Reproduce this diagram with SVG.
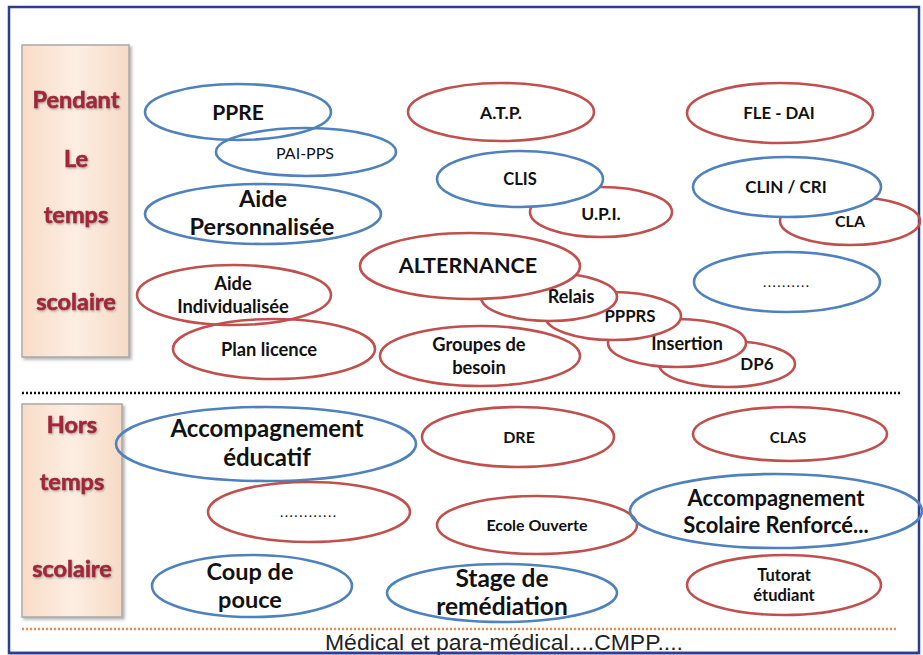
<svg xmlns="http://www.w3.org/2000/svg" width="923" height="655" viewBox="0 0 923 655">
<defs>
<linearGradient id="peach" x1="0" y1="0" x2="1" y2="0">
<stop offset="0" stop-color="#f8dcc8"/>
<stop offset="0.5" stop-color="#fdeee3"/>
<stop offset="1" stop-color="#f6dbc6"/>
</linearGradient>
<filter id="boxShadow" x="-10%" y="-5%" width="125%" height="115%">
<feDropShadow dx="2" dy="2" stdDeviation="1.5" flood-color="#555" flood-opacity="0.45"/>
</filter>
<filter id="txtShadow" x="-10%" y="-20%" width="130%" height="150%">
<feDropShadow dx="1" dy="1.2" stdDeviation="0.8" flood-color="#777" flood-opacity="0.6"/>
</filter>
</defs>
<style>
.b{fill:none;stroke:#4f81bd;stroke-width:2.6}
.r{fill:none;stroke:#c0504d;stroke-width:2.6}
.w{fill:#fff}
text{font-family:Lato,"Liberation Sans",sans-serif;fill:#111;text-anchor:middle;font-weight:bold}
.reg{font-weight:normal}
.lab{fill:#a0283a;stroke:#a0283a;stroke-width:0.6;font-size:23.5px;filter:url(#txtShadow)}
.box{fill:url(#peach);stroke:#a9a9a9;stroke-width:1.5;filter:url(#boxShadow)}
</style>
<rect x="9" y="7" width="910" height="646" fill="#fff" stroke="#2d3d90" stroke-width="2.5"/>

<g id="label-pendant">
<rect class="box" x="22" y="45" width="107" height="312"/>
<text class="lab" x="76" y="108">Pendant</text>
<text class="lab" x="76" y="167">Le</text>
<text class="lab" x="76" y="223">temps</text>
<text class="lab" x="76" y="310">scolaire</text>
</g>
<g id="label-hors">
<rect class="box" x="22" y="404" width="100" height="213"/>
<text class="lab" x="72" y="433">Hors</text>
<text class="lab" x="72" y="490">temps</text>
<text class="lab" x="72" y="577">scolaire</text>
</g>

<g id="connectors">
<line x1="22" y1="393" x2="900" y2="393" stroke="#111" stroke-width="2.6" stroke-dasharray="2 2"/>
<line x1="22" y1="629" x2="898" y2="629" stroke="#ea8a4c" stroke-width="2.4" stroke-dasharray="2 2"/>
</g>

<g id="n-ppre"><ellipse class="b" cx="238" cy="112" rx="93" ry="28"/><text x="238" y="119.5" font-size="21">PPRE</text></g>
<g id="n-paipps"><ellipse class="b" cx="306" cy="152" rx="90" ry="24"/><text class="reg" x="305" y="159" font-size="16">PAI-PPS</text></g>
<g id="n-aidepers"><ellipse class="b" cx="263" cy="214" rx="118" ry="30"/><text x="263" y="207" font-size="23.5">Aide</text><text x="262" y="235" font-size="23.5">Personnalisée</text></g>
<g id="n-atp"><ellipse class="r" cx="501" cy="112" rx="93" ry="29"/><text x="501" y="119" font-size="17.5">A.T.P.</text></g>
<g id="n-upi"><ellipse class="r" cx="601" cy="212" rx="71" ry="25"/><text x="601" y="220" font-size="17.5">U.P.I.</text></g>
<g id="n-clis"><ellipse class="b w" cx="520" cy="179" rx="83" ry="28"/><text x="520" y="185" font-size="16.5">CLIS</text></g>
<g id="n-fle"><ellipse class="r" cx="780" cy="113" rx="93" ry="30"/><text x="779" y="118.5" font-size="16.8">FLE - DAI</text></g>
<g id="n-cla"><ellipse class="r" cx="850" cy="221" rx="70" ry="24"/><text x="850" y="227" font-size="16">CLA</text></g>
<g id="n-clin"><ellipse class="b w" cx="787" cy="187" rx="94" ry="30"/><text x="786" y="193" font-size="17">CLIN / CRI</text></g>
<g id="n-dots1"><ellipse class="b" cx="787" cy="282" rx="93" ry="30"/><text class="reg" x="786" y="287" font-size="14" textLength="46" lengthAdjust="spacing">..........</text></g>

<g id="n-dp6"><ellipse class="r w" cx="727" cy="364" rx="68" ry="23"/><text x="757" y="369.5" font-size="17">DP6</text></g>
<g id="n-insertion"><ellipse class="r w" cx="677" cy="343" rx="69" ry="24"/><text x="687" y="349.5" font-size="18">Insertion</text></g>
<g id="n-ppprs"><ellipse class="r w" cx="613" cy="316" rx="68" ry="24"/><text x="630" y="322" font-size="16.8">PPPRS</text></g>
<g id="n-relais"><ellipse class="r w" cx="549" cy="297" rx="68" ry="24"/><text x="571" y="302.5" font-size="18">Relais</text></g>
<g id="n-alternance"><ellipse class="r w" cx="470" cy="266" rx="110" ry="33"/><text x="468" y="273" font-size="21.6">ALTERNANCE</text></g>
<g id="n-groupes"><ellipse class="r" cx="480" cy="356" rx="100" ry="30"/><text x="479" y="351" font-size="18.3">Groupes de</text><text x="479" y="373.5" font-size="18.3">besoin</text></g>
<g id="n-aideind"><ellipse class="r" cx="234" cy="295" rx="97" ry="30"/><text x="233" y="290" font-size="18.3">Aide</text><text x="233" y="313" font-size="18.3">Individualisée</text></g>
<g id="n-plan"><ellipse class="r" cx="274" cy="349" rx="101" ry="30"/><text x="269" y="355.5" font-size="18.3">Plan licence</text></g>

<g id="n-accedu"><ellipse class="b" cx="266" cy="444" rx="150" ry="37"/><text x="267" y="437" font-size="24">Accompagnement</text><text x="267" y="466" font-size="24">éducatif</text></g>
<g id="n-dots2"><ellipse class="r" cx="309" cy="512" rx="101" ry="30"/><text class="reg" x="308" y="517" font-size="14" textLength="56" lengthAdjust="spacing">............</text></g>
<g id="n-coup"><ellipse class="b" cx="252" cy="586" rx="100" ry="31"/><text x="250" y="580" font-size="23.5">Coup de</text><text x="250" y="608" font-size="23.5">pouce</text></g>
<g id="n-dre"><ellipse class="r" cx="518" cy="437" rx="96" ry="30"/><text x="519" y="443" font-size="16">DRE</text></g>
<g id="n-clas"><ellipse class="r" cx="790" cy="434" rx="97" ry="27"/><text x="788" y="443" font-size="15">CLAS</text></g>
<g id="n-ecole"><ellipse class="r" cx="537" cy="525" rx="100" ry="29"/><text x="537" y="530.5" font-size="16">Ecole Ouverte</text></g>
<g id="n-accsco"><ellipse class="b" cx="776" cy="511" rx="146" ry="37"/><text x="776" y="506" font-size="22">Accompagnement</text><text x="776" y="533" font-size="22">Scolaire Renforcé...</text></g>
<g id="n-stage"><ellipse class="b" cx="502" cy="593" rx="115" ry="29"/><text x="502" y="587" font-size="24.5">Stage de</text><text x="502" y="615" font-size="24.5">remédiation</text></g>
<g id="n-tutorat"><ellipse class="r" cx="784" cy="585" rx="97" ry="30"/><text x="784" y="581" font-size="16.5">Tutorat</text><text x="784" y="600.5" font-size="16.5">étudiant</text></g>

<text class="reg" x="325" y="650" font-size="22" textLength="358" lengthAdjust="spacingAndGlyphs" style="font-family:'Liberation Sans',Arial,sans-serif;text-anchor:start;fill:#222">Médical et para-médical....CMPP....</text>
<line x1="9" y1="653" x2="919" y2="653" stroke="#2d3d90" stroke-width="2.5"/>
</svg>
